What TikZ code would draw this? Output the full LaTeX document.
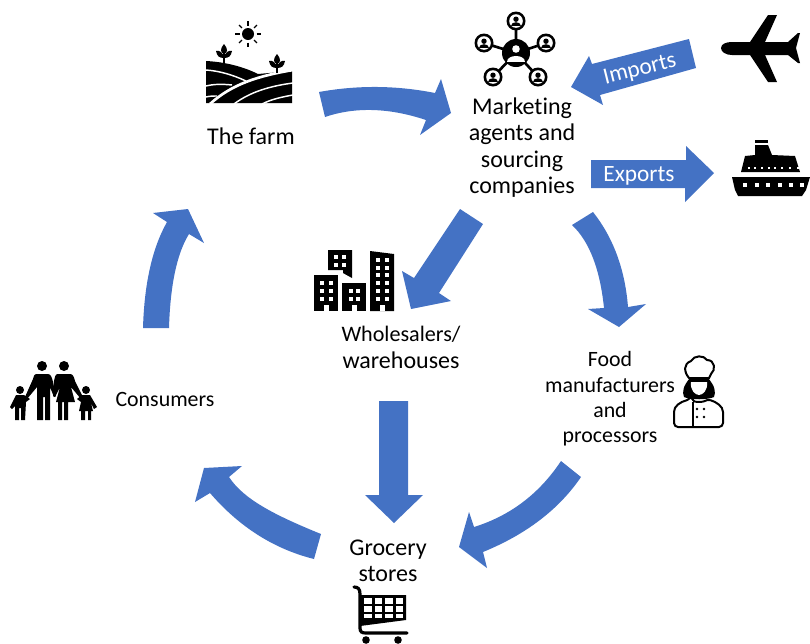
\documentclass[tikz,border=0pt]{standalone}
\usepackage{fontspec}
\setmainfont[Ligatures=NoCommon]{Carlito}
\definecolor{arrowblue}{HTML}{4472C4}
\tikzset{
  blockarrow/.style={fill=arrowblue,draw=none},
  icon/.style={fill=black,draw=none},
  iconhole/.style={fill=white,draw=none},
  lbl/.style={inner sep=0pt,align=center,text=black,font=\fontsize{18}{19.7}\selectfont},
  lblsmall/.style={inner sep=0pt,align=center,text=black,font=\fontsize{16.4}{19}\selectfont},
  lblwhite/.style={inner sep=0pt,text=white,font=\fontsize{17.5}{19}\selectfont}
}
\newcommand{\ringicon}[2]{%
  \fill[black] (#1,#2) circle (9.5);
  \fill[white] (#1,#2) circle (6.8);
  \fill[black] (#1,#2-1.8) circle (2.7);
  \fill[black] (#1-5,#2+5) .. controls (#1-5,#2+0.3) and (#1+5,#2+0.3) .. (#1+5,#2+5) -- cycle;
}
\newcommand{\winsq}[2]{\fill[white] (#1-2,#2-2) rectangle (#1+2,#2+2);}
\begin{document}
\begin{tikzpicture}[x=0.75pt,y=-0.75pt]
\useasboundingbox (0,0) rectangle (810,643);
% ---- block arrows
\fill[blockarrow] (319,92) .. controls (357.7,85) and (396.3,85.3) .. (435,93) -- (441,79) -- (451,113) -- (420,135) -- (426,120) .. controls (389,107.7) and (355.3,106.7) .. (325,117) -- cycle;
\fill[blockarrow] (571,87) -- (589,56) -- (592,64) -- (689,39) -- (696,68) -- (600,95) -- (603,105) -- cycle;
\fill[blockarrow] (591,160) -- (686,160) -- (686,146) -- (714,173) -- (685,202) -- (685,188) -- (591,188) -- cycle;
\fill[blockarrow] (460,209) -- (483,224) -- (439,293) -- (451,301) -- (411,309) -- (402,271) -- (414,278) -- cycle;
\fill[blockarrow] (572,225) .. controls (589.3,241.3) and (600,269) .. (604,308) -- (588,309) -- (619,327) -- (646,304) -- (628,307) .. controls (625,269.3) and (613.3,237.7) .. (593,212) -- cycle;
\fill[blockarrow] (379,401) -- (408,401) -- (408,495) -- (423,495) -- (394,523) -- (365,495) -- (379,495) -- cycle;
\fill[blockarrow] (561,461) -- (581,477) .. controls (559,509.3) and (526.3,534.3) .. (483,552) -- (487,568) -- (459,547) -- (469,512) -- (474,527) .. controls (510.3,515.7) and (539.3,493.7) .. cycle;
\fill[blockarrow] (321,534) -- (314,559) .. controls (274,549) and (239.3,527) .. (210,493) -- (195,502) -- (204,468) -- (242,466) -- (229,477) .. controls (243.7,499.3) and (274.3,515) .. cycle;
\fill[blockarrow] (143,328) -- (169,328) .. controls (170.3,284.7) and (177,253.3) .. (189,234) -- (204,243) -- (188,209) -- (153,213) -- (167,222) .. controls (152.3,248) and (144.3,283.3) .. cycle;
% ---- labels
\node[lbl] (farm) at (251,136) {The farm};
\node[lbl] (agents) at (522,147.5) {Marketing\\agents and\\sourcing\\companies};
\node[lbl] (whole) at (401,347.5) {{\fontsize{16.6}{19.7}\selectfont Wholesalers/}\\warehouses};
\node[lblsmall] (manu) at (610,399) {Food\\manufacturers\\and\\processors};
\node[lblsmall] (cons) at (165,399) {Consumers};
\node[lbl] (groc) at (388,560.5) {Grocery\\stores};
\node[lblwhite,rotate=14] (imports) at (640,70) {Imports};
\node[lblwhite] (exports) at (639,175.5) {Exports};
% ---- farm icon
\fill[black] (248,34) circle (6);
\foreach \a in {0,45,...,315} \draw[black,line width=0.9pt] (248,34)++(\a:8.5) -- ++(\a:4.2);
\fill[icon] (206,61) .. controls (226,62) and (244,67) .. (258,74) -- (292,71) -- (292,103) -- (206,103) -- cycle;
\draw[white,line width=1.1pt] (206,70) .. controls (220,71) and (233,75) .. (246,81);
\draw[white,line width=1.1pt] (206,86) .. controls (214,84) and (222,84) .. (232,85);
\draw[white,line width=1.1pt] (206,97) .. controls (210,96) and (213,96) .. (217,96);
\draw[white,line width=2pt] (210,104) .. controls (232,84) and (258,76) .. (293,70);
\draw[white,line width=1.1pt] (234,104) .. controls (250,92) and (270,86) .. (293,83);
\draw[white,line width=1.1pt] (262,104) .. controls (272,99) and (282,97) .. (293,95);
\foreach \x/\y in {224/44,277/54}{
  \draw[black,line width=1.1pt] (\x,\y+5) -- (\x,\y+19);
  \fill[black] (\x,\y) .. controls (\x+4.5,\y+5) and (\x+3.5,\y+9) .. (\x,\y+10) .. controls (\x-3.5,\y+9) and (\x-4.5,\y+5) .. (\x,\y);
  \fill[black] (\x-8,\y+7) .. controls (\x-5,\y+6) and (\x-1,\y+8) .. (\x,\y+14) .. controls (\x-5,\y+14) and (\x-7,\y+12) .. (\x-8,\y+7);
  \fill[black] (\x+8,\y+7) .. controls (\x+5,\y+6) and (\x+1,\y+8) .. (\x,\y+14) .. controls (\x+5,\y+14) and (\x+7,\y+12) .. (\x+8,\y+7);
}
% ---- network icon
\draw[black,line width=2pt] (516,53) -- (516,21) (516,53) -- (484,43) (516,53) -- (546,43) (516,53) -- (493,77) (516,53) -- (538,77);
\ringicon{516}{21}\ringicon{484}{43}\ringicon{546}{43}\ringicon{493}{77}\ringicon{538}{77}
\fill[black] (516,53) circle (14);
\fill[white] (516,49) circle (3.8);
\fill[white] (507,62) .. controls (507,53.5) and (525,53.5) .. (525,62) -- cycle;
% ---- plane
\fill[icon] (721,48) .. controls (721,44) and (726,42) .. (732,42) -- (750,42) -- (768,15) -- (777,15) -- (765,42) -- (788,42) -- (798,33) -- (800,33) -- (796,48) -- (800,63) -- (798,63) -- (788,55) -- (765,55) -- (777,82) -- (768,82) -- (750,55) -- (732,55) .. controls (726,55) and (721,52) .. cycle;
% ---- ship
\fill[icon] (755,140) rectangle (768,143);
\fill[icon] (755,145) -- (768,145) -- (772,155) -- (795,156) -- (800,172) -- (741,172) -- (745,156) -- (755,155) -- cycle;
\fill[icon] (732,177) -- (810,177) -- (806,190) -- (802,196) -- (738,196) -- (735,190) -- cycle;
\foreach \x in {749,755,762,769,775,782,790,798} \fill[white] (\x-0.8,167.2) rectangle (\x+0.8,168.8);
\foreach \x in {745,757,768,780,791,802} \fill[white] (\x-2,183) rectangle (\x+2,187);
% ---- buildings
\fill[icon] (328,250) -- (352,250) -- (352,278) -- (343,273) -- (343,270) -- (328,270) -- cycle;
\foreach \x in {336,344} \foreach \y in {257,265} \winsq{\x}{\y}
\fill[icon] (314,275) rectangle (338,311);
\foreach \x in {322,331} \foreach \y in {283,291,299} \winsq{\x}{\y}
\fill[white] (323.5,305) rectangle (328.5,311);
\fill[icon] (342,283) rectangle (366,311);
\foreach \x in {351,358} \foreach \y in {291,299} \winsq{\x}{\y}
\fill[white] (351.5,305) rectangle (356.5,311);
\fill[icon] (370,251) -- (394,254) -- (394,311) -- (370,311) -- cycle;
\foreach \x in {378,387} \foreach \y in {260,268,275,283,291,299} \winsq{\x}{\y}
\fill[white] (379.5,305) rectangle (384.5,311);
% ---- chef
\begin{scope}[line width=1.5pt]
\fill[black] (690,378) .. controls (683,386) and (682,392) .. (684,397) .. controls (690,400) and (708,400) .. (714,397) .. controls (716,392) and (715,386) .. (708,378) -- cycle;
\fill[white] (691,382) -- (707,382) .. controls (708,390) and (703,395) .. (699,395) .. controls (695,395) and (690,390) .. (691,382) -- cycle;
\draw[black,fill=white] (689,378) .. controls (684,372) and (683,364) .. (691,361) .. controls (694,355) and (704,355) .. (707,360) .. controls (715,360) and (716,370) .. (711,374) -- (709,378) -- cycle;
\draw[black,fill=white,rounded corners=3pt] (691,399) .. controls (680,402) and (674,406) .. (674,416) -- (674,427) -- (723,427) -- (723,416) .. controls (723,406) and (716,402) .. (707,399) .. controls (703,402) and (695,402) .. (691,399) -- cycle;
\draw[black] (693,402) -- (693,427);
\end{scope}
\foreach \x in {697,704} \foreach \y in {409,417} \fill[black] (\x,\y) circle (1.4);
% ---- family
\fill[black] (42,366) circle (5);
\fill[black] (64,366) circle (5);
\fill[black] (20,390) circle (4);
\fill[black] (86,390) circle (4);
\fill[icon] (36,374) -- (48,374) .. controls (51,374) and (52,378) .. (53,382) -- (56,396) -- (54,397) -- (50,387) -- (50,420) -- (45,420) -- (45,397) -- (43,397) -- (43,420) -- (37,420) -- (37,387) -- (27,399) -- (25,397) -- (33,379) .. controls (34,376) and (34,374) .. cycle;
\fill[icon] (58,374) -- (70,374) .. controls (73,374) and (74,377) .. (75,381) -- (83,397) -- (81,399) -- (71,387) -- (75,402) -- (68,402) -- (68,420) -- (64,420) -- (64,402) -- (62,402) -- (62,420) -- (58,420) -- (58,402) -- (56,402) -- (60,387) -- (55,397) -- (53,396) -- (54,381) .. controls (55,377) and (55,374) .. cycle;
\fill[icon] (16,395) -- (24,395) -- (30,399) -- (26,402) -- (25,420) -- (21,420) -- (21,408) -- (19,408) -- (19,420) -- (15,420) -- (15,406) -- (12,409) -- (10,407) -- cycle;
\fill[icon] (82,395) -- (90,395) -- (97,407) -- (94,409) -- (91,403) -- (93,411) -- (91,411) -- (91,420) -- (88,420) -- (88,411) -- (85,411) -- (85,420) -- (81,420) -- (81,411) -- (79,411) -- (81,402) -- (77,399) -- cycle;
% ---- cart
\draw[black,line width=2.4pt,line cap=round] (354,587) .. controls (358,587) and (360,589) .. (360,594) -- (360,628) .. controls (360,632) and (362,633) .. (366,633) -- (407,633);
\fill[icon] (360,595) -- (406,595) -- (406,620) -- (360,626) -- cycle;
\foreach \x in {364,374.5,385,395.5} {
  \foreach \y in {598,606} \fill[white] (\x,\y) rectangle (\x+7.5,\y+5.5);
  \fill[white] (\x,614) rectangle (\x+7.5,618);
}
\fill[black] (366,640) circle (3.8);
\fill[black] (398,640) circle (3.8);
\end{tikzpicture}
\end{document}
